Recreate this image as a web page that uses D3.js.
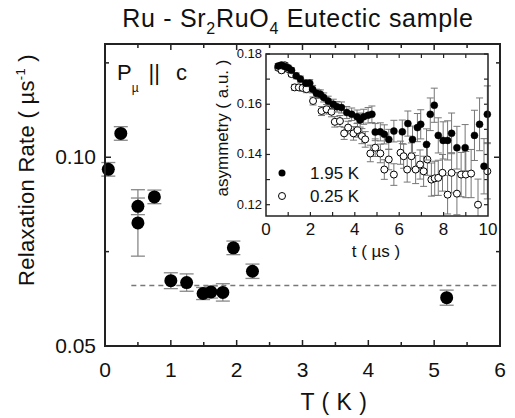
<!DOCTYPE html>
<html><head><meta charset="utf-8">
<script src="https://cdn.jsdelivr.net/npm/d3@7"></script>
<style>body{margin:0;background:#fff}svg{display:block}text{font-family:"Liberation Sans",Arial,sans-serif;fill:#111}</style>
</head><body>
<script>
// main panel data
const mainT    = [0.05, 0.24, 0.50, 0.50, 0.75, 1.00, 1.24, 1.49, 1.61, 1.79, 1.95, 2.24, 5.19];
const mainRate = [0.0968, 0.1063, 0.0870, 0.0826, 0.0895, 0.0673, 0.0668, 0.0639, 0.0643, 0.0642, 0.0760, 0.0698, 0.0628];
const mainErr  = [0.0018, 0.0018, 0.0022, 0.0088, 0.0018, 0.0021, 0.0023, 0.0016, 0.0016, 0.0023, 0.0018, 0.0019, 0.0020];
const baseLine = 0.066;
const xTicksMain = [0,1,2,3,4,5,6];
const yTickLabels = [0.05, 0.10];
// inset data: 1.95 K (filled) and 0.25 K (open)
const tHot = [0.55,0.7,0.85,1.0,1.15,1.36,1.55,1.79,1.97,2.1,2.27,2.45,2.6,2.8,3.03,3.2,3.4,3.64,3.86,4.1,4.24,4.4,4.6,4.77,4.92,5.15,5.33,5.53,5.76,6.14,6.39,6.6,6.82,6.97,7.23,7.4,7.58,7.76,7.98,8.18,8.36,8.6,8.97,9.39,9.62,9.82,9.97];
const aHot = [0.1752,0.1756,0.1750,0.1745,0.1735,0.1713,0.1700,0.1684,0.1684,0.1660,0.1644,0.1640,0.1627,0.1613,0.1600,0.1590,0.1587,0.1567,0.1560,0.1550,0.1537,0.1550,0.1556,0.1560,0.1489,0.1490,0.1480,0.1460,0.1493,0.1490,0.1523,0.1460,0.1507,0.1520,0.1440,0.1560,0.1596,0.1476,0.1456,0.1456,0.1484,0.1427,0.1427,0.1476,0.1520,0.1353,0.1560];
const eHot = [0.001,0.001,0.001,0.001,0.001,0.0012,0.0012,0.0013,0.0014,0.0015,0.0016,0.0017,0.0018,0.0019,0.002,0.0021,0.0022,0.0024,0.0025,0.0027,0.0028,0.003,0.0031,0.0033,0.0034,0.0036,0.0038,0.004,0.0043,0.0047,0.005,0.0053,0.0056,0.0058,0.0062,0.0065,0.0068,0.007,0.0074,0.0078,0.0081,0.0085,0.0092,0.01,0.0105,0.011,0.0113];
const tCold = [0.55,0.7,0.85,1.0,1.15,1.29,1.48,1.65,1.82,2.12,2.35,2.5,2.73,2.95,3.1,3.33,3.52,3.7,3.94,4.12,4.32,4.47,4.7,4.92,5.15,5.33,5.53,5.76,6.06,6.2,6.36,6.55,6.74,6.94,7.1,7.27,7.45,7.6,7.76,7.95,8.18,8.36,8.6,8.79,9.0,9.24,9.55,9.97];
const aCold = [0.1745,0.1735,0.1755,0.1740,0.1720,0.1667,0.1667,0.1665,0.1660,0.1613,0.1640,0.1573,0.1580,0.1570,0.1530,0.1533,0.1484,0.1507,0.1484,0.1497,0.1473,0.1460,0.1404,0.1427,0.1404,0.1340,0.1380,0.1320,0.1407,0.1393,0.1340,0.1393,0.1340,0.1360,0.1333,0.1380,0.1300,0.1305,0.1307,0.1327,0.1240,0.1327,0.1244,0.1320,0.1320,0.1324,0.1200,0.1333];
const eCold = [0.001,0.001,0.001,0.001,0.001,0.0012,0.0012,0.0013,0.0014,0.0016,0.0017,0.0018,0.0019,0.002,0.0021,0.0022,0.0024,0.0025,0.0027,0.0028,0.003,0.0031,0.0033,0.0035,0.0037,0.0039,0.0041,0.0043,0.0046,0.0048,0.005,0.0053,0.0056,0.0058,0.006,0.0063,0.0066,0.0068,0.007,0.0073,0.0077,0.008,0.0084,0.0088,0.0092,0.0096,0.0102,0.011];
const insetXLabels = [0,2,4,6,8,10];
const insetYLabels = [0.12,0.14,0.16,0.18];

const W=515,H=418;
const svg=d3.select("body").append("svg").attr("width",W).attr("height",H);
svg.append("rect").attr("width",W).attr("height",H).attr("fill","#fff");

// ---------- main panel ----------
const x=d3.scaleLinear().domain([0,6]).range([105,500]);
const y=d3.scaleLinear().domain([0.05,0.13]).range([346,44]);
const frameCol="#222";

// dashed line
svg.append("line").attr("x1",x(0.4)).attr("x2",x(6)).attr("y1",y(baseLine)).attr("y2",y(baseLine))
  .attr("stroke","#777").attr("stroke-width",1.5).attr("stroke-dasharray","5,4");

// ticks (inward) main
const gm=svg.append("g");
const xMinor=d3.range(0,6.01,0.5);
xMinor.forEach(v=>{
  const len=(Math.abs(v-Math.round(v))<1e-6)?6:4;
  gm.append("line").attr("x1",x(v)).attr("x2",x(v)).attr("y1",y(0.05)).attr("y2",y(0.05)-len).attr("stroke",frameCol).attr("stroke-width",1.5);
  gm.append("line").attr("x1",x(v)).attr("x2",x(v)).attr("y1",y(0.13)).attr("y2",y(0.13)+len).attr("stroke",frameCol).attr("stroke-width",1.5);
});
d3.range(0.05,0.1301,0.025).forEach(v=>{
  const len=(Math.abs(v*20-Math.round(v*20))<1e-6)?6:4;
  gm.append("line").attr("x1",x(0)).attr("x2",x(0)+len).attr("y1",y(v)).attr("y2",y(v)).attr("stroke",frameCol).attr("stroke-width",1.5);
  gm.append("line").attr("x1",x(6)).attr("x2",x(6)-len).attr("y1",y(v)).attr("y2",y(v)).attr("stroke",frameCol).attr("stroke-width",1.5);
});
// labels
xTicksMain.forEach(v=>{
  gm.append("text").attr("x",x(v)).attr("y",377).attr("text-anchor","middle").attr("font-size",21).text(v);
});
yTickLabels.forEach(v=>{
  gm.append("text").attr("x",96).attr("y",y(v)+7).attr("text-anchor","end").attr("font-size",21).text(d3.format(".2f")(v));
});

// error bars main
const mainData=mainT.map((t,i)=>({t,r:mainRate[i],e:mainErr[i]}));
const eb=svg.append("g").attr("stroke","#888").attr("stroke-width",1.3);
mainData.forEach(d=>{
  eb.append("line").attr("x1",x(d.t)).attr("x2",x(d.t)).attr("y1",y(d.r-d.e)).attr("y2",y(d.r+d.e));
  [d.r-d.e,d.r+d.e].forEach(v=>eb.append("line").attr("x1",x(d.t)-7).attr("x2",x(d.t)+7).attr("y1",y(v)).attr("y2",y(v)));
});
svg.append("g").selectAll("circle").data(mainData).join("circle")
  .attr("cx",d=>x(d.t)).attr("cy",d=>y(d.r)).attr("r",6.5).attr("fill","#000");

// frame
svg.append("rect").attr("x",x(0)).attr("y",y(0.13)).attr("width",x(6)-x(0)).attr("height",y(0.05)-y(0.13))
  .attr("fill","none").attr("stroke",frameCol).attr("stroke-width",2);

// titles
const title=svg.append("text").attr("x",298).attr("y",27).attr("text-anchor","middle").attr("font-size",25).attr("letter-spacing",0.7);
title.append("tspan").text("Ru - Sr");
title.append("tspan").attr("font-size",16).attr("dy",7).text("2");
title.append("tspan").attr("dy",-7).text("RuO");
title.append("tspan").attr("font-size",16).attr("dy",7).text("4");
title.append("tspan").attr("dy",-7).text(" Eutectic sample");

const yl=svg.append("text").attr("transform","translate(34,170) rotate(-90)").attr("text-anchor","middle").attr("font-size",22).attr("letter-spacing",0.3);
yl.append("tspan").text("Relaxation Rate  ( µs");
yl.append("tspan").attr("font-size",13).attr("dy",-9).text("-1");
yl.append("tspan").attr("dy",9).text(" )");

svg.append("text").attr("x",334).attr("y",410).attr("text-anchor","middle").attr("font-size",23).attr("letter-spacing",0.5).text("T  ( K )");

const pl=svg.append("text").attr("x",117).attr("y",80).attr("font-size",22);
pl.append("tspan").text("P");
pl.append("tspan").attr("font-size",12).attr("dy",12).text("µ");
pl.append("tspan").attr("dy",-12).attr("dx",10).text("||");
pl.append("tspan").attr("dx",16).text("c");

// ---------- inset ----------
const xi=d3.scaleLinear().domain([0,10]).range([266,488]);
const yi=d3.scaleLinear().domain([0.1155,0.18]).range([216,54]);
svg.append("rect").attr("x",xi(0)).attr("y",yi(0.18)).attr("width",xi(10)-xi(0)).attr("height",yi(0.1155)-yi(0.18)).attr("fill","#fff");
const gi=svg.append("g");
d3.range(1,10,1).forEach(v=>{
  gi.append("line").attr("x1",xi(v)).attr("x2",xi(v)).attr("y1",yi(0.1155)).attr("y2",yi(0.1155)-4).attr("stroke",frameCol).attr("stroke-width",1.2);
  gi.append("line").attr("x1",xi(v)).attr("x2",xi(v)).attr("y1",yi(0.18)).attr("y2",yi(0.18)+4).attr("stroke",frameCol).attr("stroke-width",1.2);
});
d3.range(0.12,0.1801,0.01).forEach(v=>{
  gi.append("line").attr("x1",xi(0)).attr("x2",xi(0)+4).attr("y1",yi(v)).attr("y2",yi(v)).attr("stroke",frameCol).attr("stroke-width",1.2);
  gi.append("line").attr("x1",xi(10)).attr("x2",xi(10)-4).attr("y1",yi(v)).attr("y2",yi(v)).attr("stroke",frameCol).attr("stroke-width",1.2);
});
insetXLabels.forEach(v=>gi.append("text").attr("x",xi(v)).attr("y",235).attr("text-anchor","middle").attr("font-size",17).text(v));
insetYLabels.forEach(v=>gi.append("text").attr("x",262).attr("y",yi(v)+4).attr("text-anchor","end").attr("font-size",13).text(d3.format(".2f")(v)));
svg.append("text").attr("transform","translate(228,128) rotate(-90)").attr("text-anchor","middle").attr("font-size",17).text("asymmetry ( a.u. )");
svg.append("text").attr("x",376).attr("y",257).attr("text-anchor","middle").attr("font-size",17).text("t  ( µs )");

function insetSeries(ts,as,es,filled){
  const data=ts.map((t,i)=>({t,a:as[i],e:es[i]}));
  const g=svg.append("g").attr("stroke","#777").attr("stroke-width",1);
  data.forEach(d=>{
    g.append("line").attr("x1",xi(d.t)).attr("x2",xi(d.t)).attr("y1",yi(Math.max(0.1155,d.a-d.e))).attr("y2",yi(d.a+d.e));
    [d.a-d.e,d.a+d.e].forEach(v=>{ if(v>=0.1155) g.append("line").attr("x1",xi(d.t)-3.5).attr("x2",xi(d.t)+3.5).attr("y1",yi(v)).attr("y2",yi(v)); });
  });
  svg.append("g").selectAll("circle").data(data).join("circle")
    .attr("cx",d=>xi(d.t)).attr("cy",d=>yi(d.a)).attr("r",3.5)
    .attr("fill",filled?"#000":"#fff").attr("stroke","#000").attr("stroke-width",filled?0.5:1);
}
insetSeries(tCold,aCold,eCold,false);
insetSeries(tHot,aHot,eHot,true);

svg.append("rect").attr("x",xi(0)).attr("y",yi(0.18)).attr("width",xi(10)-xi(0)).attr("height",yi(0.1155)-yi(0.18))
  .attr("fill","none").attr("stroke",frameCol).attr("stroke-width",1.5);

// legend
svg.append("circle").attr("cx",282).attr("cy",173).attr("r",3.5).attr("fill","#000");
svg.append("circle").attr("cx",282).attr("cy",196).attr("r",3.5).attr("fill","#fff").attr("stroke","#000");
svg.append("text").attr("x",310).attr("y",179).attr("font-size",17).text("1.95 K");
svg.append("text").attr("x",310).attr("y",202).attr("font-size",17).text("0.25 K");
</script>
</body></html>
